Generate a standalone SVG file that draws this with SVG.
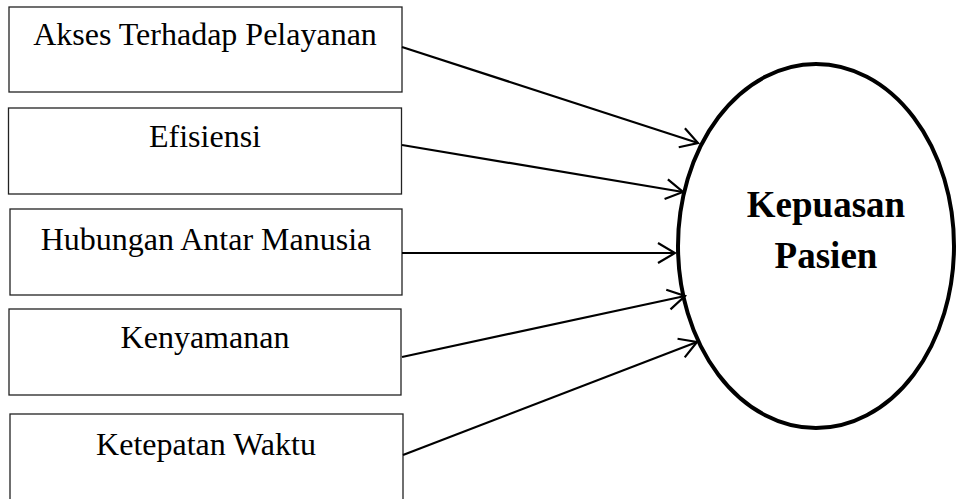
<svg xmlns="http://www.w3.org/2000/svg" width="956" height="499" viewBox="0 0 956 499">
<style>
.box{fill:#fff;stroke:#222;stroke-width:1.3}
.lbl{font-family:"Liberation Serif","Times New Roman",serif;font-size:32px;fill:#000;text-anchor:middle}
.big{font-family:"Liberation Serif","Times New Roman",serif;font-size:37px;font-weight:bold;fill:#000;text-anchor:middle}
.con{stroke:#000;stroke-width:2.2;fill:none}
</style>
<defs>
<marker id="arr" markerUnits="userSpaceOnUse" viewBox="-20 -12 22 24" markerWidth="22" markerHeight="24" refX="0" refY="0" orient="auto">
<path d="M-17,-10 L0,0 L-17,10" fill="none" stroke="#000" stroke-width="2.2"/>
</marker>
</defs>
<rect width="956" height="499" fill="#fff"/>
<g id="n1"><rect class="box" x="9" y="7" width="393" height="85"/><text class="lbl" x="205" y="45">Akses Terhadap Pelayanan</text></g>
<g id="n2"><rect class="box" x="8.5" y="108" width="393" height="86"/><text class="lbl" x="205" y="147">Efisiensi</text></g>
<g id="n3"><rect class="box" x="10" y="209" width="392" height="86"/><text class="lbl" x="206" y="250">Hubungan Antar Manusia</text></g>
<g id="n4"><rect class="box" x="9" y="309" width="392" height="86"/><text class="lbl" x="205" y="348">Kenyamanan</text></g>
<g id="n5"><rect class="box" x="10" y="414" width="393" height="100"/><text class="lbl" x="206" y="455">Ketepatan Waktu</text></g>
<g id="n6"><ellipse cx="816" cy="246" rx="138" ry="182" fill="#fff" stroke="#000" stroke-width="4"/><text class="big" x="826" y="217">Kepuasan</text><text class="big" x="826" y="268">Pasien</text></g>
<g id="connectors">
<line class="con" x1="402" y1="47" x2="698" y2="143" marker-end="url(#arr)"/>
<line class="con" x1="402" y1="145" x2="683" y2="192" marker-end="url(#arr)"/>
<line class="con" x1="402" y1="253" x2="675" y2="253" marker-end="url(#arr)"/>
<line class="con" x1="402" y1="357" x2="685" y2="296" marker-end="url(#arr)"/>
<line class="con" x1="403" y1="455" x2="697" y2="342" marker-end="url(#arr)"/>
</g>
</svg>
